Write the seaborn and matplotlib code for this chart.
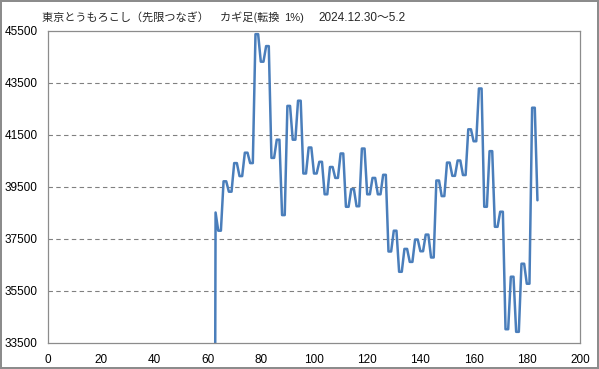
import numpy as np
import pandas as pd
import matplotlib
matplotlib.use('Agg')
import matplotlib.pyplot as plt
import seaborn as sns

# Kagi line (1% reversal), one row per bar
day = list(range(62, 185))
price = [0, 38500,
         37800, 37800, 39700, 39700, 39300, 39300, 40400, 40400, 39900, 39900,
         40800, 40800, 40400, 40400, 45360, 45360, 44300, 44300, 44900, 44900,
         40600, 40600, 41300, 41300, 38400, 38400, 42600, 42600, 41300, 41300,
         42800, 42800, 40000, 40000, 41000, 41000, 40000, 40000, 40450, 40450,
         39200, 39200, 40250, 40250, 39830, 39830, 40770, 40770, 38720, 38720,
         39400, 39400, 38740, 38740, 40960, 40960, 39200, 39200, 39830, 39830,
         39200, 39200, 39950, 39950, 37000, 37000, 37800, 37800, 36220, 36220,
         37100, 37100, 36600, 36600, 37460, 37460, 37010, 37010, 37650, 37650,
         36770, 36770, 39730, 39730, 39130, 39130, 40420, 40420, 39910, 39910,
         40500, 40500, 39940, 39940, 41700, 41700, 41240, 41240, 43270, 43270,
         38720, 38720, 40860, 40860, 37950, 37950, 38530, 38530, 34010, 34010,
         36030, 36030, 33910, 33910, 36530, 36530, 35760, 35760, 42530, 42530,
         38970]

title_main = '東京とうもろこし（先限つなぎ）　カギ足(転換'
title_pct = '1%)'
title_date = '2024.12.30～5.2'

x_ticks = list(range(0, 201, 20))
y_ticks = list(range(33500, 45501, 2000))

df = pd.DataFrame({'day': day, 'price': price})

sns.set_style('white')
plt.rcParams['font.family'] = ['Liberation Sans', 'DejaVu Sans']

fig = plt.figure(figsize=(5.99, 3.69), dpi=100, linewidth=1.5, edgecolor='#8c8c8c')
ax = fig.add_axes([48 / 599, 1 - 342.5 / 369, 532 / 599, 312 / 369])

sns.lineplot(data=df, x='day', y='price', ax=ax, color='#4a7ebb',
             linewidth=1.8, estimator=None)

ax.set_xlim(0, 200)
ax.set_ylim(33500, 45500)
ax.set_xticks(x_ticks)
ax.set_yticks(y_ticks)
ax.set_xlabel('')
ax.set_ylabel('')
ax.tick_params(axis='both', direction='out', length=3.5, width=0.8,
               color='#888888', labelsize=8.5, labelcolor='black')
ax.tick_params(axis='x', pad=5)
ax.tick_params(axis='y', pad=4)

for v in y_ticks[1:-1]:
    ax.axhline(v, color='#808080', linewidth=0.8, linestyle=(0, (4, 3)), zorder=0)

for s in ax.spines.values():
    s.set_color('#8c8c8c')
    s.set_linewidth(0.9)

jp = ['Noto Sans CJK JP', 'DejaVu Sans']
num = ['Liberation Sans', 'Noto Sans CJK JP']
fig.text(42 / 599, 1 - 17 / 369, title_main, family=jp, fontsize=8,
         ha='left', va='center')
fig.text(284 / 599, 1 - 18 / 369, title_pct, family=num, fontsize=8,
         ha='left', va='center')
fig.text(318 / 599, 1 - 18 / 369, title_date, family=num, fontsize=8.5,
         ha='left', va='center')

fig.savefig('out.png', dpi=100)
